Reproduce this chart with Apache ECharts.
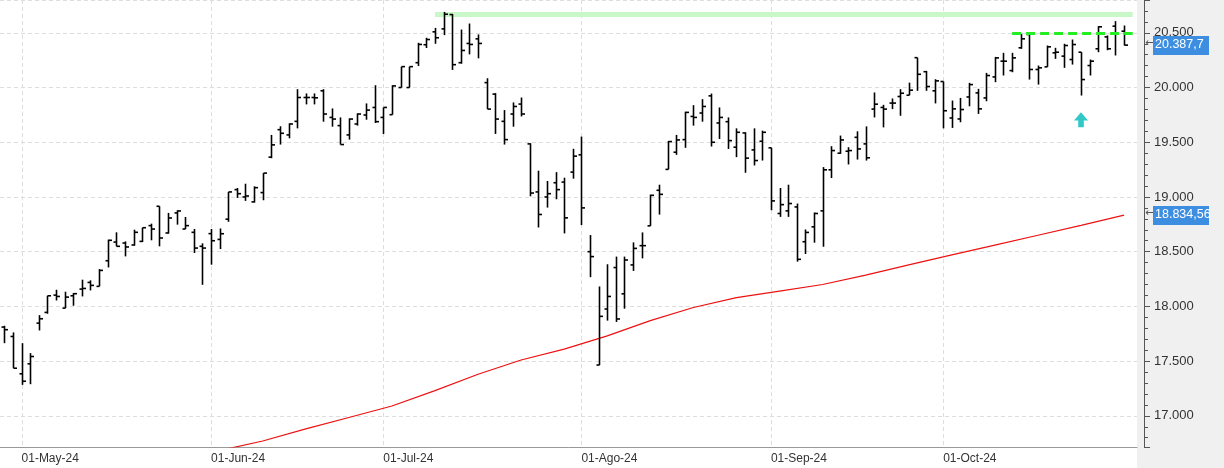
<!DOCTYPE html>
<html><head><meta charset="utf-8">
<script src="https://cdn.jsdelivr.net/npm/echarts@6/dist/echarts.min.js"></script>
<style>html,body{margin:0;padding:0;background:#fff}#c{width:1224px;height:468px}</style>
</head><body><div id="c"></div>
<script>
const opens=[17811,17725,17384,17475,17847,17945,18103,17984,18097,18158,18219,18183,18417,18588,18579,18561,18594,18738,18915,18671,18854,18707,18677,18549,18665,
18612,18797,19067,19000,18955,19040,19364,19615,19567,19691,19909,19909,19970,19727,19652,19567,19667,19749,19818,19727,
19752,20000,20000,20227,20391,20509,20536,20667,20227,20403,20445,20045,19940,19691,19758,19849,19485,19046,19000,19130,19136,19227,19385,
18500,17464,17976,18355,18115,18379,18555,18736,19061,19252,19409,19524,19736,19767,19924,19676,19688,19455,19585,19430,19509,19449,
18849,18873,18909,18591,18727,18873,19248,19400,19418,19545,19485,19803,19818,19858,19918,19930,20273,20145,19970,20055,
19722,19713,19914,19951,19905,20097,20241,20155,20363,20485,20165,20189,20317,20287,20256,20323,20201,20354,20463,20561,20515];
const highs=[17823,17762,17664,17573,17920,18097,18152,18134,18122,18244,18238,18341,18610,18677,18594,18701,18719,18756,18915,18854,18878,18817,18707,18576,18707,
18712,19046,19082,19121,19097,19218,19567,19646,19673,19985,19946,19946,19985,19809,19727,19718,19764,19855,20021,19818,
20021,20191,20191,20409,20455,20545,20691,20673,20530,20585,20485,20085,19949,19794,19864,19909,19491,19240,19146,19227,19176,19440,19552,
18652,18182,18385,18455,18455,18585,18676,19021,19112,19512,19567,19779,19839,19894,19945,19818,19727,19627,19591,19627,19606,19449,
19082,19112,18940,18703,18858,19273,19464,19561,19455,19600,19645,19955,19842,19900,19985,20045,20273,20152,20076,20055,
19881,19905,20043,19988,20134,20280,20317,20317,20491,20500,20201,20384,20363,20400,20439,20323,20256,20561,20476,20607,20567];
const lows=[17664,17435,17283,17289,17780,17933,18054,17984,18006,18091,18146,18183,18356,18549,18457,18555,18588,18604,18549,18665,18747,18707,18488,18197,18381,
18524,18773,18991,18964,18949,18970,19354,19479,19536,19627,19846,19846,19688,19642,19479,19524,19652,19706,19676,19576,
19752,20000,20000,20197,20361,20400,20479,20161,20218,20303,20267,19803,19576,19479,19642,19736,19006,18721,18903,18979,18667,19167,18743,
18267,17464,17870,17858,17979,18324,18439,18736,18839,19252,19385,19449,19652,19688,19461,19530,19439,19364,19221,19288,19333,18879,
18818,18818,18409,18479,18582,18545,19173,19394,19297,19342,19333,19727,19636,19803,19742,19930,19970,19970,19855,19627,
19631,19683,19829,19759,19875,20049,20110,20140,20354,20073,20027,20189,20262,20180,20210,19927,20110,20323,20341,20293,20384];
const closes=[17787,17435,17316,17542,17887,18097,18091,18085,18116,18164,18192,18329,18604,18549,18543,18677,18719,18707,18625,18808,18872,18738,18533,18533,18600,
18664,19046,19030,19009,19085,19218,19476,19582,19667,19909,19909,19906,19758,19712,19479,19712,19758,19794,19688,19818,
20015,20191,20191,20394,20439,20455,20670,20209,20339,20394,20403,19803,19712,19524,19827,19758,19036,18840,19030,19067,18809,19373,18900,
18455,17909,18091,17885,18424,18530,18555,19015,19024,19506,19521,19773,19727,19827,19500,19727,19515,19591,19355,19333,19591,18964,
18930,18940,18430,18676,18849,19248,19424,19521,19424,19439,19358,19848,19803,19858,19948,19976,20121,20009,20061,19788,
19805,19799,20027,19805,20110,20271,20241,20271,20445,20165,20180,20372,20323,20384,20393,20073,20241,20555,20354,20500,20387.7];
const maIndex=[26,30,35,40,45,50,55,60,65,70,75,80,85,90,95,100,105,110,115,120,125,130];
const maValue=[16700,16770,16880,16985,17090,17230,17380,17510,17610,17730,17870,17990,18080,18140,18200,18285,18380,18470,18560,18650,18740,18834.56];
const tickIndex=[2,24,44,67,89,109];
const tickLabels=['01-May-24','01-Jun-24','01-Jul-24','01-Ago-24','01-Sep-24','01-Oct-24'];
const resistance=20500, topBandHigh=20690, topBandLow=20645;
const lastClose=20387.7, lastMA=18834.56;

const N=132;
const cats=[];for(let i=0;i<N;i++)cats.push(String(i));
const ohlc=opens.map((o,i)=>[i,o,highs[i],lows[i],closes[i]]);
const ma=new Array(N).fill(null);maIndex.forEach((k,j)=>ma[k]=maValue[j]);
const labelMap={};tickIndex.forEach((k,j)=>labelMap[k]=tickLabels[j]);
const fmt=v=>Math.round(v).toString().replace(/\B(?=(\d{3})+(?!\d))/g,'.');

const chart=echarts.init(document.getElementById('c'));
chart.setOption({
  animation:false,
  grid:{left:0,right:87,top:0,bottom:21},
  xAxis:{type:'category',data:cats,boundaryGap:true,
    axisLine:{lineStyle:{color:'#999'}},axisTick:{show:false},splitLine:{show:false},
    axisLabel:{interval:0,formatter:(v,i)=>labelMap[i]||'',align:'left',margin:6,color:'#333',fontFamily:'Liberation Sans',fontSize:12}},
  yAxis:{type:'value',position:'right',offset:7,min:16715,max:20800,splitNumber:8,scale:true,
    axisLine:{show:true,lineStyle:{color:'#555'}},
    axisTick:{show:true,length:6,lineStyle:{color:'#555'}},
    minorTick:{show:true,splitNumber:5,length:4,lineStyle:{color:'#555'}},
    axisLabel:{showMinLabel:false,showMaxLabel:false,formatter:fmt,color:'#333',fontFamily:'Liberation Sans',fontSize:13,margin:10},
    splitLine:{lineStyle:{color:'#dddddd',type:[4,3]}}},
  series:[
    {type:'custom',z:0,silent:true,data:tickIndex.map(k=>[k]),encode:{x:0},
      renderItem:(p,api)=>{
        const x=Math.round(api.coord([api.value(0),0])[0])+0.5;
        return {type:'line',shape:{x1:x,y1:p.coordSys.y,x2:x,y2:p.coordSys.y+p.coordSys.height},
          style:{stroke:'#dddddd',lineWidth:1,lineDash:[4,3]}};
      },
      markArea:{silent:true,itemStyle:{color:'#c8f8c8'},data:[[{xAxis:'50',yAxis:topBandHigh},{xAxis:'131',yAxis:topBandLow}]]}},
    {type:'line',data:ma,connectNulls:true,showSymbol:false,clip:true,lineStyle:{color:'#ee1111',width:1.2},z:2},
    {type:'custom',z:3,encode:{x:0,y:[1,2,3,4]},data:ohlc,clip:true,
      renderItem:(p,api)=>{
        const i=api.value(0);
        const x=Math.round(api.coord([i,0])[0])+0.5;
        const yo=api.coord([i,api.value(1)])[1],yh=api.coord([i,api.value(2)])[1],
              yl=api.coord([i,api.value(3)])[1],yc=api.coord([i,api.value(4)])[1];
        const st={stroke:'#000',lineWidth:1.6};
        return {type:'group',children:[
          {type:'line',shape:{x1:x,y1:yh,x2:x,y2:yl},style:st},
          {type:'line',shape:{x1:x-3,y1:yo,x2:x,y2:yo},style:st},
          {type:'line',shape:{x1:x,y1:yc,x2:x+3.5,y2:yc},style:st}]};
      },
      markLine:{silent:true,symbol:'none',label:{show:false},
        data:[[{xAxis:'117',yAxis:resistance,lineStyle:{color:'#22ee22',width:3,type:[9,5]}},{xAxis:'131',yAxis:resistance}]]},
      markPoint:{silent:true,label:{show:false},data:[{coord:['125',19705],symbol:'path://M5,0 L10,6 L7,6 L7,11 L3,11 L3,6 L0,6 Z',symbolSize:[14,15],itemStyle:{color:'#33c8c8'}}]}
    }
  ]
});
function tag(v,txt){
  const y=chart.convertToPixel({yAxisIndex:0},v);
  return [
    {type:'text',x:1145,y:y-7,style:{text:'←',fill:'#555',font:'11px DejaVu Sans'}},
    {type:'rect',shape:{x:1153,y:y-9,width:56,height:19},style:{fill:'#3d8ee0'}},
    {type:'text',x:1155,y:y-7,style:{text:txt,fill:'#fff',font:'12.5px Liberation Sans'}}];
}
chart.setOption({graphic:[{type:'rect',z:-10,shape:{x:1137,y:0,width:87,height:468},style:{fill:'#f0f0f0'}},
  ...tag(lastClose,'20.387,7'),...tag(lastMA,'18.834,56')]});
</script></body></html>
